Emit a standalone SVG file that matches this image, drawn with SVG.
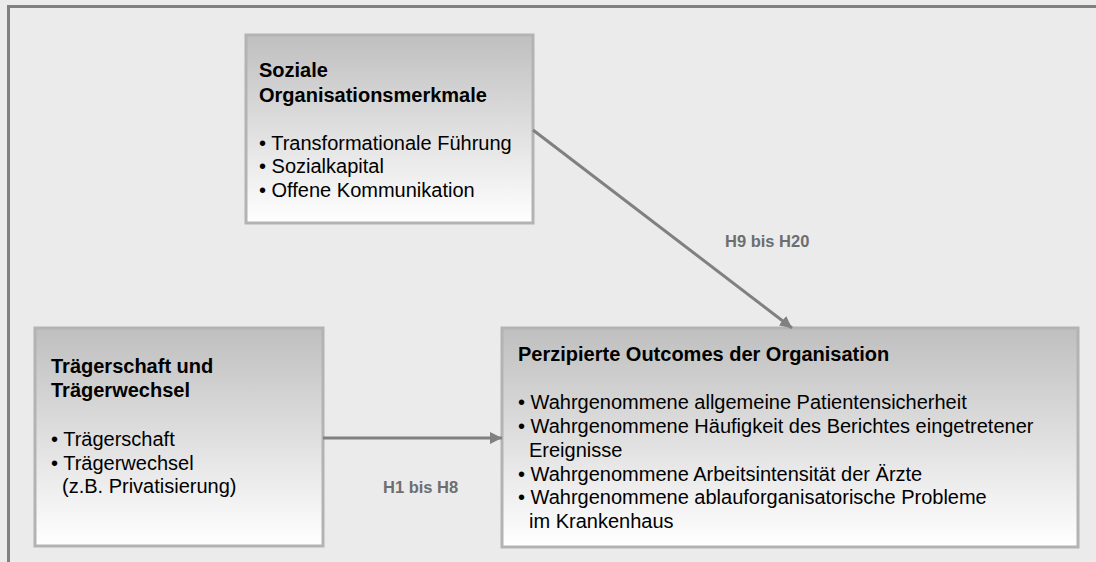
<svg xmlns="http://www.w3.org/2000/svg" width="1096" height="562" viewBox="0 0 1096 562">
<defs>
<linearGradient id="boxGrad" x1="0" y1="0" x2="0" y2="1">
<stop offset="0" stop-color="#bfbfbf"/>
<stop offset="1" stop-color="#ffffff"/>
</linearGradient>
<marker id="arrow" viewBox="0 0 10 10" refX="10" refY="5" markerWidth="4" markerHeight="4" markerUnits="strokeWidth" orient="auto">
<path d="M0,0 L10,5 L0,10 z" fill="#808080"/>
</marker>
</defs>
<style>
.box{fill:url(#boxGrad);stroke:#b3b3b3;stroke-width:3}
.title{font-family:"Liberation Sans",Arial,sans-serif;font-size:20px;font-weight:bold;fill:#000}
.item{font-family:"Liberation Sans",Arial,sans-serif;font-size:20px;fill:#000}
.conn{stroke:#808080;stroke-width:3;fill:none;marker-end:url(#arrow)}
.lbl{font-family:"Liberation Sans",Arial,sans-serif;font-size:16.5px;font-weight:bold;fill:#6e6e6e}
</style>
<rect x="0" y="0" width="1096" height="562" fill="#ebebeb"/>
<path d="M8.5,562 L8.5,6.5 L1096,6.5" fill="none" stroke="#808080" stroke-width="3"/>

<g id="node-soziale">
<rect class="box" x="246" y="35" width="287" height="188"/>
<text class="title" x="259" y="77">Soziale</text>
<text class="title" x="259" y="102">Organisationsmerkmale</text>
<text class="item" x="259" y="150">• Transformationale Führung</text>
<text class="item" x="259" y="173">• Sozialkapital</text>
<text class="item" x="259" y="197">• Offene Kommunikation</text>
</g>

<g id="node-traeger">
<rect class="box" x="35" y="328" width="288" height="218"/>
<text class="title" x="51" y="373">Trägerschaft und</text>
<text class="title" x="51" y="397">Trägerwechsel</text>
<text class="item" x="51" y="446">• Trägerschaft</text>
<text class="item" x="51" y="470">• Trägerwechsel</text>
<text class="item" x="62" y="493">(z.B. Privatisierung)</text>
</g>

<g id="node-outcomes">
<rect class="box" x="502" y="328" width="576" height="219"/>
<text class="title" x="518" y="361">Perzipierte Outcomes der Organisation</text>
<text class="item" x="518" y="409">• Wahrgenommene allgemeine Patientensicherheit</text>
<text class="item" x="518" y="433">• Wahrgenommene Häufigkeit des Berichtes eingetretener</text>
<text class="item" x="529" y="457">Ereignisse</text>
<text class="item" x="518" y="481">• Wahrgenommene Arbeitsintensität der Ärzte</text>
<text class="item" x="518" y="504">• Wahrgenommene ablauforganisatorische Probleme</text>
<text class="item" x="529" y="528">im Krankenhaus</text>
</g>

<g id="connectors">
<line class="conn" x1="533" y1="130" x2="792" y2="328"/>
<line class="conn" x1="323" y1="438" x2="502" y2="438"/>
<text class="lbl" x="725" y="247">H9 bis H20</text>
<text class="lbl" x="383" y="493">H1 bis H8</text>
</g>
</svg>
